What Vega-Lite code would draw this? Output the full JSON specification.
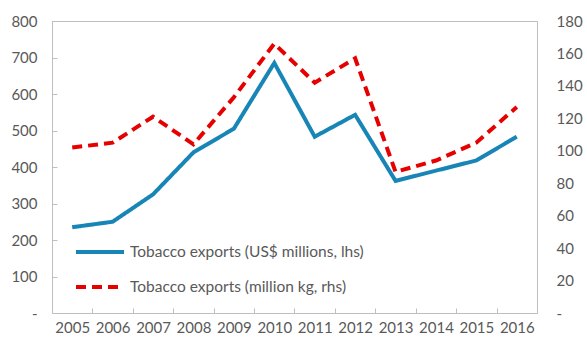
{
  "$schema": "https://vega.github.io/schema/vega-lite/v6.json",
  "autosize": "none",
  "width": 485,
  "height": 292,
  "padding": {"left": 52, "top": 21, "right": 50, "bottom": 33},
  "data": {
    "values": [
      {"year": "2005", "series": "Tobacco exports (US$ millions, lhs)", "usd": 235},
      {"year": "2006", "series": "Tobacco exports (US$ millions, lhs)", "usd": 250},
      {"year": "2007", "series": "Tobacco exports (US$ millions, lhs)", "usd": 325},
      {"year": "2008", "series": "Tobacco exports (US$ millions, lhs)", "usd": 440},
      {"year": "2009", "series": "Tobacco exports (US$ millions, lhs)", "usd": 505},
      {"year": "2010", "series": "Tobacco exports (US$ millions, lhs)", "usd": 685},
      {"year": "2011", "series": "Tobacco exports (US$ millions, lhs)", "usd": 483},
      {"year": "2012", "series": "Tobacco exports (US$ millions, lhs)", "usd": 543},
      {"year": "2013", "series": "Tobacco exports (US$ millions, lhs)", "usd": 362},
      {"year": "2014", "series": "Tobacco exports (US$ millions, lhs)", "usd": 390},
      {"year": "2015", "series": "Tobacco exports (US$ millions, lhs)", "usd": 418},
      {"year": "2016", "series": "Tobacco exports (US$ millions, lhs)", "usd": 483},
      {"year": "2005", "series": "Tobacco exports (million kg, rhs)", "kg": 102},
      {"year": "2006", "series": "Tobacco exports (million kg, rhs)", "kg": 105},
      {"year": "2007", "series": "Tobacco exports (million kg, rhs)", "kg": 121},
      {"year": "2008", "series": "Tobacco exports (million kg, rhs)", "kg": 104},
      {"year": "2009", "series": "Tobacco exports (million kg, rhs)", "kg": 133},
      {"year": "2010", "series": "Tobacco exports (million kg, rhs)", "kg": 166},
      {"year": "2011", "series": "Tobacco exports (million kg, rhs)", "kg": 142},
      {"year": "2012", "series": "Tobacco exports (million kg, rhs)", "kg": 157},
      {"year": "2013", "series": "Tobacco exports (million kg, rhs)", "kg": 87},
      {"year": "2014", "series": "Tobacco exports (million kg, rhs)", "kg": 94},
      {"year": "2015", "series": "Tobacco exports (million kg, rhs)", "kg": 105},
      {"year": "2016", "series": "Tobacco exports (million kg, rhs)", "kg": 127}
    ]
  },
  "encoding": {
    "x": {
      "field": "year",
      "type": "ordinal",
      "bandPosition": 0.5,
      "scale": {"type": "band", "paddingInner": 0, "paddingOuter": 0},
      "axis": {
        "title": null,
        "labelAngle": 0,
        "tickBand": "extent",
        "tickSize": -5,
        "labelPadding": 12,
        "domainColor": "#bfbfbf",
        "tickColor": "#bfbfbf"
      }
    },
    "color": {
      "field": "series",
      "type": "nominal",
      "sort": ["Tobacco exports (US$ millions, lhs)", "Tobacco exports (million kg, rhs)"],
      "scale": {
        "domain": ["Tobacco exports (US$ millions, lhs)", "Tobacco exports (million kg, rhs)"],
        "range": ["#1785b5", "#e60000"]
      },
      "legend": {
        "title": null,
        "orient": "none",
        "legendX": 22,
        "legendY": 205,
        "symbolType": "stroke",
        "symbolSize": 2304,
        "symbolStrokeWidth": 4,
        "labelFontSize": 15.5,
        "labelColor": "#595959",
        "labelOffset": 4,
        "labelLimit": 0,
        "rowPadding": -15,
        "padding": 0
      }
    },
    "strokeDash": {
      "field": "series",
      "type": "nominal",
      "sort": ["Tobacco exports (US$ millions, lhs)", "Tobacco exports (million kg, rhs)"],
      "scale": {
        "domain": ["Tobacco exports (US$ millions, lhs)", "Tobacco exports (million kg, rhs)"],
        "range": [[1, 0], [10, 6]]
      },
      "legend": {
        "title": null,
        "orient": "none",
        "legendX": 22,
        "legendY": 205,
        "symbolType": "stroke",
        "symbolSize": 2304,
        "symbolStrokeWidth": 4,
        "labelFontSize": 15.5,
        "labelColor": "#595959",
        "labelOffset": 4,
        "labelLimit": 0,
        "rowPadding": -15,
        "padding": 0
      }
    }
  },
  "layer": [
    {
      "transform": [{"filter": "datum.series === 'Tobacco exports (US$ millions, lhs)'"}],
      "mark": {"type": "line", "strokeWidth": 4},
      "encoding": {
        "y": {
          "field": "usd",
          "type": "quantitative",
          "scale": {"domain": [0, 800], "nice": false},
          "axis": {
            "title": null,
            "orient": "left",
            "values": [0, 100, 200, 300, 400, 500, 600, 700, 800],
            "labelExpr": "datum.value === 0 ? '-' : datum.label",
            "grid": false,
            "ticks": true,
            "tickSize": -5,
            "tickColor": "#bfbfbf",
            "labelPadding": 20,
            "domainColor": "#bfbfbf"
          }
        }
      }
    },
    {
      "transform": [{"filter": "datum.series === 'Tobacco exports (million kg, rhs)'"}],
      "mark": {"type": "line", "strokeWidth": 4},
      "encoding": {
        "y": {
          "field": "kg",
          "type": "quantitative",
          "scale": {"domain": [0, 180], "nice": false},
          "axis": {
            "title": null,
            "orient": "right",
            "values": [0, 20, 40, 60, 80, 100, 120, 140, 160, 180],
            "labelExpr": "datum.value === 0 ? '-' : datum.label",
            "grid": false,
            "ticks": false,
            "labelPadding": 19,
            "domainColor": "#bfbfbf"
          }
        }
      }
    }
  ],
  "resolve": {"scale": {"y": "independent"}},
  "config": {
    "font": "Lato",
    "view": {"stroke": "#bfbfbf"},
    "axis": {
      "labelFont": "Lato",
      "labelFontSize": 15,
      "labelColor": "#595959",
      "domainWidth": 1
    },
    "legend": {"labelFont": "Lato"}
  }
}
